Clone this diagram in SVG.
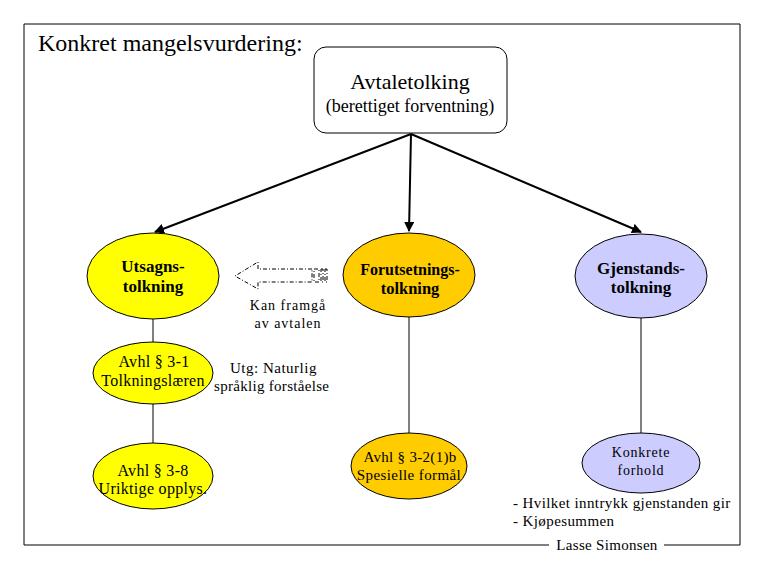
<svg xmlns="http://www.w3.org/2000/svg" width="765" height="570" viewBox="0 0 765 570" font-family="'Liberation Serif', 'DejaVu Serif', serif">
<defs>
<style>
text{font-family:'Liberation Serif','DejaVu Serif',serif;fill:#000}
.bold{font-weight:bold;font-size:17px}
.reg{font-size:16px;letter-spacing:0.3px}
.sm{font-size:15px}
.node{stroke:#000;stroke-width:1}
.yel{fill:#FFFF00}
.org{fill:#FFCC00}
.lav{fill:#CCCCFF}
.conn{stroke:#000;stroke-width:1;fill:none}
.arr{stroke:#000;stroke-width:2;fill:none;marker-end:url(#ah)}
.dash{stroke:#000;stroke-width:1;fill:#fff;stroke-dasharray:4 2 1 2}
</style>
<marker id="ah" viewBox="0 0 10 10" refX="9" refY="5" markerWidth="5" markerHeight="5" orient="auto" markerUnits="strokeWidth">
<path d="M0,0 L10,5 L0,10 z" fill="#000"/>
</marker>
</defs>
<rect width="765" height="570" fill="#fff"/>
<g id="frame">
<path d="M549,545 L24,545 L24,24 L740,24 L740,545 L664,545" fill="none" stroke="#000" stroke-width="1"/>
<text x="38" y="51" style="font-size:24px">Konkret mangelsvurdering:</text>
<text x="607" y="550" class="sm" text-anchor="middle" style="letter-spacing:0.3px">Lasse Simonsen</text>
</g>
<g id="connectors">
<line class="arr" x1="411" y1="134" x2="155" y2="232"/>
<line class="arr" x1="411" y1="134" x2="409" y2="231"/>
<line class="arr" x1="411" y1="134" x2="641" y2="232"/>
<line class="conn" x1="153" y1="319" x2="153" y2="343"/>
<line class="conn" x1="153" y1="404" x2="153" y2="443"/>
<line class="conn" x1="409" y1="317" x2="409" y2="433"/>
<line class="conn" x1="641" y1="318" x2="641" y2="433"/>
</g>
<g id="avtaletolking">
<rect x="314" y="47" width="193" height="86" rx="12" ry="12" fill="#fff" stroke="#000" stroke-width="1"/>
<text x="410" y="89" text-anchor="middle" style="font-size:22px">Avtaletolking</text>
<text x="410" y="112" text-anchor="middle" style="font-size:18px">(berettiget forventning)</text>
</g>
<g id="utsagnstolkning">
<ellipse class="node yel" cx="153" cy="276" rx="66" ry="43"/>
<text class="bold" x="153" y="272" text-anchor="middle">Utsagns-</text>
<text class="bold" x="153" y="292" text-anchor="middle">tolkning</text>
</g>
<g id="forutsetningstolkning">
<ellipse class="node org" cx="409" cy="275" rx="66" ry="42"/>
<text class="bold" x="410" y="275" text-anchor="middle" style="font-size:16px">Forutsetnings-</text>
<text class="bold" x="410" y="294" text-anchor="middle" style="font-size:16.5px">tolkning</text>
</g>
<g id="gjenstandstolkning">
<ellipse class="node lav" cx="641" cy="276" rx="66" ry="42"/>
<text class="bold" x="641" y="274" text-anchor="middle">Gjenstands-</text>
<text class="bold" x="641" y="293" text-anchor="middle">tolkning</text>
</g>
<g id="avhl31">
<ellipse class="node yel" cx="153" cy="373" rx="60" ry="31"/>
<text class="reg" x="154" y="367" text-anchor="middle">Avhl § 3-1</text>
<text class="reg" x="153" y="386" text-anchor="middle">Tolkningslæren</text>
</g>
<g id="avhl38">
<ellipse class="node yel" cx="153" cy="476" rx="60" ry="33"/>
<text class="reg" x="153" y="476" text-anchor="middle">Avhl § 3-8</text>
<text class="reg" x="153" y="494" text-anchor="middle">Uriktige opplys.</text>
</g>
<g id="avhl321b">
<ellipse class="node org" cx="409" cy="466" rx="58" ry="33"/>
<text class="sm" x="410" y="462" text-anchor="middle" style="letter-spacing:0.3px">Avhl § 3-2(1)b</text>
<text class="sm" x="409" y="480" text-anchor="middle" style="letter-spacing:0.4px">Spesielle formål</text>
</g>
<g id="konkrete">
<ellipse class="node lav" cx="641" cy="463" rx="59" ry="30"/>
<text x="641" y="457" text-anchor="middle" style="font-size:14px;letter-spacing:0.8px">Konkrete</text>
<text x="641" y="475" text-anchor="middle" style="font-size:14px;letter-spacing:0.8px">forhold</text>
</g>
<g id="kan-framgaa">
<path class="dash" d="M312,269 L258,269 L258,262 L235,276 L258,289 L258,282 L312,282 Z"/>
<rect class="dash" x="314" y="269" width="5" height="13"/>
<rect class="dash" x="321" y="269" width="2" height="13"/>
<rect class="dash" x="325" y="269" width="2" height="13"/>
<text x="288" y="310" text-anchor="middle" style="font-size:14px;letter-spacing:1px">Kan framgå</text>
<text x="288" y="328" text-anchor="middle" style="font-size:14px;letter-spacing:1px">av avtalen</text>
</g>
<g id="notes">
<text x="230" y="373" class="sm" style="letter-spacing:0.5px">Utg: Naturlig</text>
<text x="214" y="391" class="sm" style="letter-spacing:0.3px">språklig forståelse</text>
<text x="513" y="508" style="font-size:15px;letter-spacing:0.4px">- Hvilket inntrykk gjenstanden gir</text>
<text x="513" y="526" style="font-size:15px;letter-spacing:0.4px">- Kjøpesummen</text>
</g>
</svg>
